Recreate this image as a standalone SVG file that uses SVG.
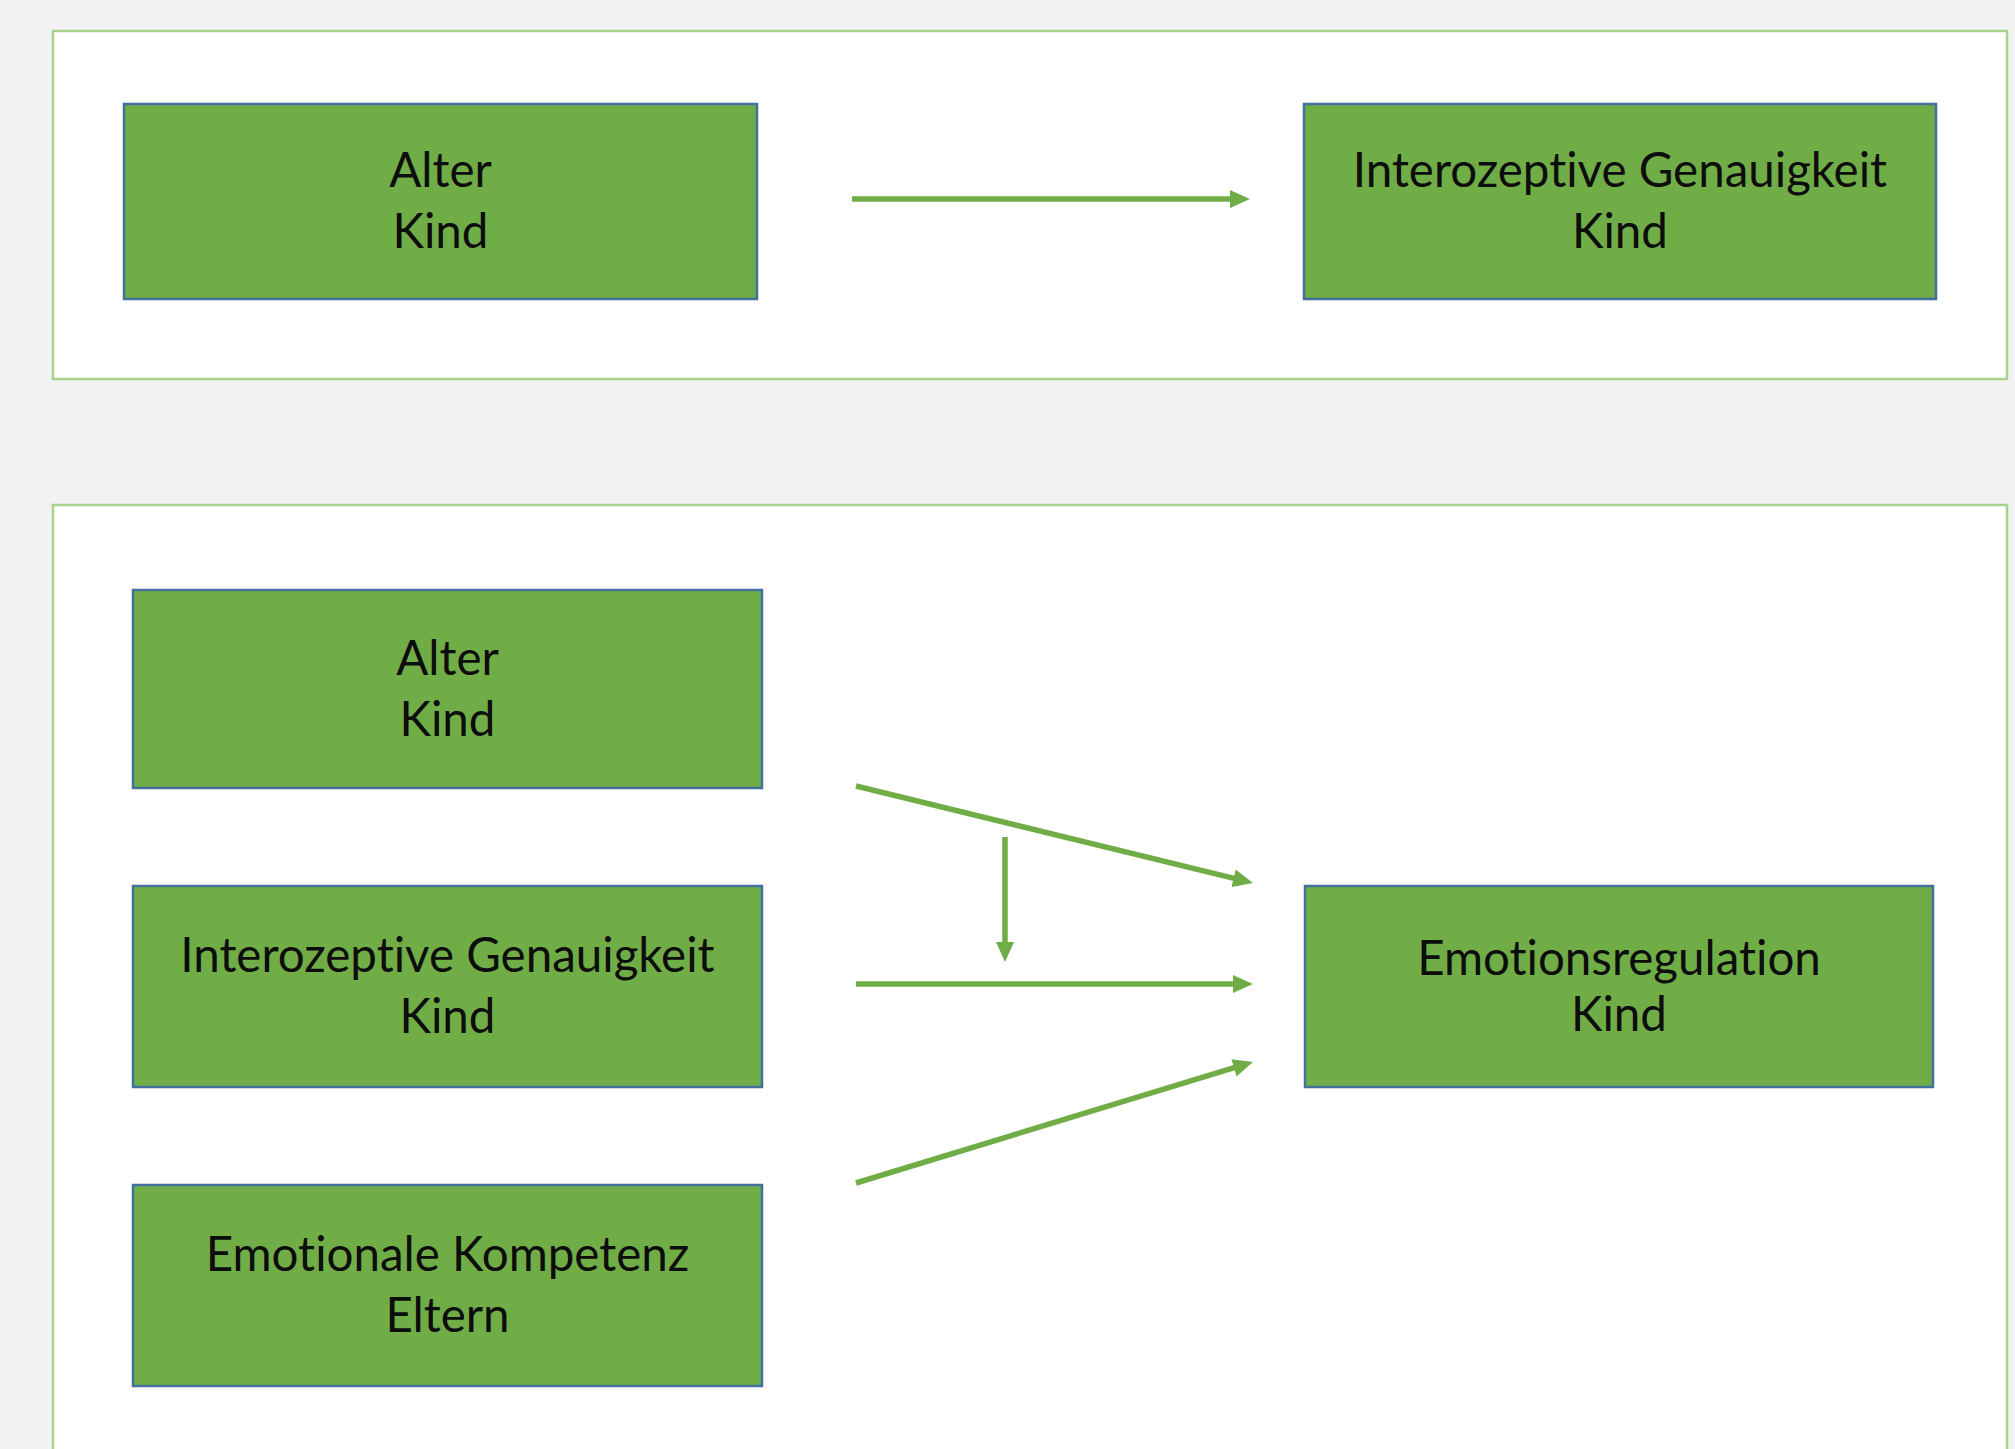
<svg xmlns="http://www.w3.org/2000/svg" width="2015" height="1449" viewBox="0 0 2015 1449">
<defs>
<style>
.panel{fill:#ffffff;stroke:#A9D18E;stroke-width:2.5}
.box{fill:#70AD47;stroke:#41719C;stroke-width:2.5}
.lbl{font-family:Lato,"Open Sans","Liberation Sans",sans-serif;font-size:47.5px;fill:#0d0d0d;text-anchor:middle;font-variant-ligatures:none;font-feature-settings:"liga" 0,"clig" 0}
.conn{stroke:#70AD47;stroke-width:5.5;fill:none;marker-end:url(#arr)}
</style>
<marker id="arr" markerUnits="userSpaceOnUse" markerWidth="20" markerHeight="18" refX="9" refY="9" orient="auto">
<path d="M0,0 L20,9 L0,18 z" fill="#70AD47"/>
</marker>
</defs>
<rect x="0" y="0" width="2015" height="1449" fill="#F2F2F2"/>
<g id="panel-top"><rect class="panel" x="53" y="31" width="1954" height="348"/></g>
<g id="panel-bottom"><rect class="panel" x="53" y="505" width="1954" height="960"/></g>

<g id="connectors">
<line class="conn" x1="852" y1="199" x2="1239" y2="199"/>
<line class="conn" x1="856" y1="786" x2="1242.3" y2="880.4"/>
<line class="conn" x1="1005" y1="837" x2="1005" y2="951"/>
<line class="conn" x1="856" y1="984" x2="1242" y2="984"/>
<line class="conn" x1="856" y1="1183" x2="1242.5" y2="1065.2"/>
</g>

<g id="node-alter-top">
<rect class="box" x="124" y="104" width="633" height="195"/>
<text class="lbl" x="440.5" y="187">Alter</text>
<text class="lbl" x="440.5" y="248">Kind</text>
</g>
<g id="node-intero-top">
<rect class="box" x="1304" y="104" width="632" height="195"/>
<text class="lbl" x="1620" y="187">Interozeptive Genauigkeit</text>
<text class="lbl" x="1620" y="248">Kind</text>
</g>
<g id="node-alter-bottom">
<rect class="box" x="133" y="590" width="629" height="198"/>
<text class="lbl" x="447.5" y="674.5">Alter</text>
<text class="lbl" x="447.5" y="735.5">Kind</text>
</g>
<g id="node-intero-bottom">
<rect class="box" x="133" y="886" width="629" height="201"/>
<text class="lbl" x="447.5" y="972">Interozeptive Genauigkeit</text>
<text class="lbl" x="447.5" y="1033">Kind</text>
</g>
<g id="node-emokomp">
<rect class="box" x="133" y="1185" width="629" height="201"/>
<text class="lbl" x="447.5" y="1271">Emotionale Kompetenz</text>
<text class="lbl" x="447.5" y="1332">Eltern</text>
</g>
<g id="node-emoreg">
<rect class="box" x="1305" y="886" width="628" height="201"/>
<text class="lbl" x="1619" y="975">Emotionsregulation</text>
<text class="lbl" x="1619" y="1031">Kind</text>
</g>
</svg>
